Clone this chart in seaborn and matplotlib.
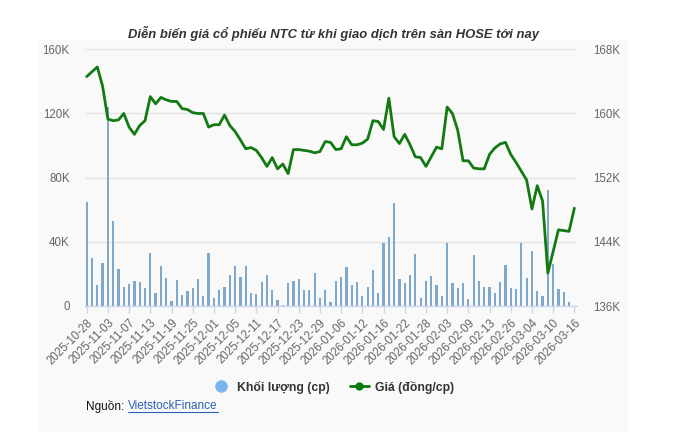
import numpy as np
import pandas as pd
import matplotlib
matplotlib.use("Agg")
import matplotlib.pyplot as plt
import seaborn as sns
from matplotlib.lines import Line2D
from matplotlib.patches import Rectangle

# ---- data ----
holidays = ["2026-01-01", "2026-01-02", "2026-02-16", "2026-02-17",
            "2026-02-18", "2026-02-19", "2026-02-20"]
dates = pd.bdate_range("2025-10-28", "2026-03-16", freq="C", holidays=holidays)
date_labels = [d.strftime("%Y-%m-%d") for d in dates]

volume_k = [65, 30, 12.9, 26.7, 124, 53, 23, 11.9, 14, 15.4,
            14.8, 11.2, 33, 8, 25, 17.5, 3, 16, 6.7, 9.2,
            11.3, 16.7, 6, 33, 4.8, 9.8, 11.7, 19.4, 25, 18.1,
            25, 7.9, 7.3, 14.8, 19.2, 9.8, 3.5, 0.8, 14.2, 15.8,
            16.7, 9.8, 9.8, 20.4, 4.8, 9.8, 2.5, 15.4, 17.9, 24.2,
            12.9, 14.8, 6.25, 11.7, 22.3, 7.9, 39, 42.7, 64.4, 16.7,
            14.2, 19.2, 32.3, 4.8, 15.4, 18.5, 12.9, 6, 39, 14.2,
            11, 14.2, 4.2, 31.7, 15.4, 11.7, 11.7, 7.9, 14.8, 25.4,
            11, 10.4, 39.2, 17.3, 34.2, 9.2, 6, 72.3, 26, 10.4,
            8.5, 2.3, 0]

price_k = [164.6, 165.2, 165.8, 163.4, 159.3, 159.1, 159.2, 160.0, 158.3, 157.4,
           158.5, 159.1, 162.1, 161.2, 162.0, 161.7, 161.5, 161.5, 160.6, 160.5,
           160.1, 160.0, 160.0, 158.3, 158.6, 158.6, 159.8, 158.5, 157.75, 156.7,
           155.6, 155.75, 155.4, 154.5, 153.4, 154.5, 153.1, 153.7, 152.5, 155.5,
           155.5, 155.4, 155.3, 155.1, 155.25, 156.5, 156.4, 155.5, 155.6, 157.1,
           156.1, 156.1, 156.3, 156.8, 159.1, 159.0, 158.0, 161.9, 157.1, 156.25,
           157.4, 156.1, 154.6, 154.5, 153.4, 154.6, 155.8, 155.6, 160.8, 160.0,
           157.9, 154.1, 154.1, 153.2, 153.1, 153.1, 154.9, 155.7, 156.2, 156.4,
           154.9, 153.9, 152.8, 151.7, 148.1, 151.0, 149.1, 140.1, 142.8, 145.5,
           145.4, 145.3, 148.2]

df = pd.DataFrame({
    "date": date_labels,
    "volume": np.array(volume_k) * 1000,
    "price": np.array(price_k) * 1000,
})
df["idx"] = np.arange(len(df))

left_ticks = [0, 40000, 80000, 120000, 160000]
left_labels = ["0", "40K", "80K", "120K", "160K"]
right_ticks = [136000, 144000, 152000, 160000, 168000]
right_labels = ["136K", "144K", "152K", "160K", "168K"]

# ---- style ----
sns.set_theme(style="white")
plt.rcParams["font.family"] = ["Liberation Sans", "DejaVu Sans"]

W, H = 674, 444
fig = plt.figure(figsize=(W / 100, H / 100), dpi=100)
fig.patch.set_facecolor("white")
bg = Rectangle((38 / W, 1 - 432 / H), (628 - 38) / W, (432 - 40) / H,
               transform=fig.transFigure, facecolor="#f9f9f9",
               edgecolor="none", zorder=-10)
fig.add_artist(bg)

ax = fig.add_axes([85 / W, 1 - 306 / H, 492 / W, (306 - 49.3) / H])
ax.set_facecolor("none")
ax2 = ax.twinx()
ax2.set_facecolor("none")

bar_color = "#7fa8cd"
line_color = "#137a13"

ax.bar(df["idx"], df["volume"], width=0.42, color=bar_color,
       linewidth=0, zorder=2)
sns.lineplot(data=df, x="idx", y="price", ax=ax2, color=line_color,
             linewidth=2.0, zorder=3)

n = len(df)
ax.set_xlim(-0.32, n - 1 + 0.5)
ax.set_ylim(0, 160000)
ax2.set_ylim(136000, 168000)

ax.set_yticks(left_ticks)
ax.set_yticklabels(left_labels)
ax2.set_yticks(right_ticks)
ax2.set_yticklabels(right_labels)

tick_pos = list(range(0, n, 4))
ax.set_xticks(tick_pos)
ax.set_xticklabels([date_labels[i] for i in tick_pos], rotation=45,
                   ha="right", va="top", rotation_mode="anchor")
ax2.set_xlabel("")
ax2.set_ylabel("")
ax.set_ylabel("")
ax.set_xlabel("")

ax.grid(axis="y", color="#e3e3e3", linewidth=1.0, zorder=0)
ax.set_axisbelow(True)
ax2.grid(False)

for a in (ax, ax2):
    for s in a.spines.values():
        s.set_visible(False)

ax.spines["bottom"].set_visible(True)
ax.spines["bottom"].set_color("#ccd6eb")
ax.spines["bottom"].set_linewidth(1.0)

ax.tick_params(axis="x", colors="#666666", labelsize=8.3, length=5,
               width=1, color="#ccd6eb", pad=3, direction="out", bottom=True)
ax.tick_params(axis="y", colors="#666666", labelsize=8.3, length=0, pad=11)
ax2.tick_params(axis="y", colors="#666666", labelsize=8.3, length=0, pad=12)
for lbl in ax.get_xticklabels():
    lbl.set_color("#666666")

# title
fig.text(333 / W, 1 - 33 / H,
         "Diễn biến giá cổ phiếu NTC từ khi giao dịch trên sàn HOSE tới nay",
         ha="center", va="center", fontsize=9.4, fontweight="bold",
         fontstyle="italic", color="#333333")

# legend
handles = [
    Line2D([], [], marker="o", linestyle="none", markersize=8,
           markerfacecolor="#7cb5ec", markeredgecolor="#7cb5ec"),
    Line2D([], [], marker="o", linestyle="-", color="#0a7a0a", markersize=5,
           linewidth=2),
]
leg = fig.legend(handles, ["Khối lượng (cp)", "Giá (đồng/cp)"],
                 loc="center", bbox_to_anchor=(333 / W, 1 - 387 / H),
                 ncol=2, frameon=False, handlelength=1.6, handletextpad=0.5,
                 columnspacing=1.6, prop={"weight": "bold", "size": 8.8})
for t in leg.get_texts():
    t.set_color("#333333")

# source
src = fig.text(86 / W, 1 - 406 / H, "Nguồn:", ha="left", va="center",
               fontsize=8.5, color="#111111")
fig.canvas.draw()
bb = src.get_window_extent()
x_link = (bb.x1 + 4) / fig.bbox.width
link = fig.text(x_link, 1 - 406 / H, "VietstockFinance", ha="left", va="center",
                fontsize=8.5, color="#2a62b8")
fig.canvas.draw()
lnk = link.get_window_extent()
fig.add_artist(Line2D([lnk.x0 / fig.bbox.width, lnk.x1 / fig.bbox.width],
                      [(lnk.y0 + 0.5) / fig.bbox.height] * 2,
                      transform=fig.transFigure, color="#2a62b8", linewidth=0.8))

fig.savefig("out.png", dpi=100, facecolor=fig.get_facecolor())
